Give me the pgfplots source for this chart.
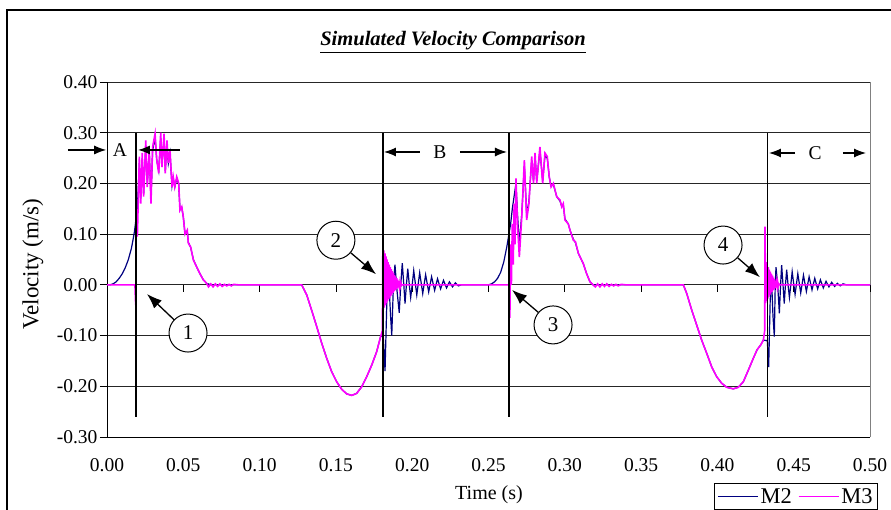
\documentclass[border=0pt]{standalone}
\usepackage{fontspec}
\setmainfont{Liberation Serif}
\usepackage{pgfplots}
\pgfplotsset{compat=1.18}
\usetikzlibrary{arrows.meta}
\definecolor{mtwo}{RGB}{0,0,128}
\definecolor{mthree}{RGB}{255,0,255}
\newcommand{\fs}{\fontsize{19.5}{22}\selectfont}
\begin{document}
\begin{tikzpicture}[x=1pt,y=1pt]
\useasboundingbox (0,0) rectangle (891,509);
\draw[line width=1.5pt] (7,-5) -- (7,499) -- (895,499);
\begin{axis}[
  at={(107pt,72pt)}, anchor=south west,
  scale only axis, width=763pt, height=355pt,
  xmin=0, xmax=0.5, ymin=-0.3, ymax=0.4,
  xtick={0,0.05,0.1,0.15,0.2,0.25,0.3,0.35,0.4,0.45,0.5},
  ytick={-0.3,-0.2,-0.1,0,0.1,0.2,0.3,0.4},
  /pgf/number format/fixed, /pgf/number format/fixed zerofill,
  /pgf/number format/precision=2, /pgf/number format/assume math mode=true,
  ticklabel style={font=\fs},
  axis x line*=bottom, axis y line*=left,
  axis line style={black, line width=0.8pt},
  tick align=outside, major tick length=7pt,
  xtick style={draw=none}, ytick style={black, line width=0.8pt},
  xticklabel style={yshift=-11pt},
  yticklabel style={xshift=1pt},
  ymajorgrids, grid style={black!85, line width=0.8pt},
  clip=false,
  legend style={at={(0.7955,-0.1296)}, anchor=north west, draw=black, line width=0.8pt,
     font=\fontsize{22.5}{25}\selectfont, legend columns=2,
     /tikz/every even column/.append style={column sep=4pt},
     inner sep=3pt},
  legend image code/.code={\draw[#1] (0pt,0pt) -- (40pt,0pt);},
]
\draw[gray, line width=0.8pt] (rel axis cs:1,0) -- (rel axis cs:1,1);
\pgfplotsinvokeforeach{0,0.05,0.1,0.15,0.2,0.25,0.3,0.35,0.4,0.45,0.5}{
  \draw[black, line width=0.8pt] (axis cs:#1,0) -- ++(0pt,-7pt);
}
\addplot[mtwo, line width=1.2pt] table {
0 0
0.002 0
0.004 0.002
0.006 0.006
0.008 0.013
0.010 0.022
0.012 0.034
0.014 0.050
0.016 0.072
0.017 0.088
0.018 0.105
0.019 0.130
0.0199 0.150
0.0212 0.240
0.0221 0.170
0.0231 0.250
0.0240 0.180
0.0254 0.275
0.0264 0.200
0.0277 0.260
0.0288 0.170
0.0299 0.265
0.0315 0.290
0.0326 0.246
0.0339 0.225
0.0352 0.290
0.0360 0.235
0.0374 0.290
0.0382 0.225
0.0393 0.280
0.0402 0.240
0.0413 0.260
0.0426 0.195
0.0434 0.210
0.0444 0.193
0.0457 0.210
0.0470 0.198
0.0478 0.150
0.0490 0.152
0.0500 0.134
0.0511 0.102
0.0526 0.105
0.0533 0.084
0.0548 0.074
0.0566 0.050
0.0588 0.035
0.0609 0.022
0.0631 0.010
0.0653 0.003
0.0680 0
0.1276 0
0.1309 -0.020
0.1341 -0.050
0.1374 -0.082
0.1407 -0.115
0.1440 -0.145
0.1472 -0.171
0.1505 -0.191
0.1538 -0.206
0.1571 -0.215
0.1604 -0.218
0.1636 -0.214
0.1669 -0.201
0.1702 -0.181
0.1735 -0.158
0.1767 -0.132
0.1793 -0.102
0.1810 -0.100
0.1822 -0.170
0.1835 -0.020
0.1845 0.020
0.1858 -0.060
0.1866 -0.100
0.1877 0.000
0.1887 0.040
0.1900 -0.010
0.1915 -0.055
0.1925 0.000
0.1935 0.043
0.1945 0.000
0.1953 -0.037
0.1962 0.000
0.1971 0.032
0.1981 0.000
0.1990 -0.025
0.2000 0.000
0.2010 0.028
0.2030 -0.020
0.2049 0.024
0.2069 -0.017
0.2088 0.020
0.2108 -0.014
0.2127 0.016
0.2147 -0.011
0.2166 0.012
0.2186 -0.008
0.2205 0.009
0.2225 -0.006
0.2244 0.006
0.2264 -0.004
0.2283 0.004
0.2303 -0.002
0.2320 0
0.2500 0
0.2520 0.002
0.2540 0.006
0.2560 0.013
0.2580 0.025
0.2600 0.045
0.2620 0.075
0.2634 0.100
0.2645 0.120
0.2656 0.150
0.2668 0.175
0.2680 0.200
0.2690 0.140
0.2702 0.080
0.2718 0.140
0.2735 0.235
0.2750 0.140
0.2765 0.165
0.2783 0.245
0.2795 0.205
0.2805 0.255
0.2816 0.205
0.2837 0.265
0.2855 0.205
0.2870 0.255
0.2885 0.250
0.2898 0.213
0.2910 0.195
0.2925 0.198
0.2947 0.174
0.2969 0.165
0.2980 0.155
0.2990 0.158
0.3001 0.130
0.3023 0.120
0.3034 0.108
0.3056 0.090
0.3070 0.083
0.3089 0.062
0.3121 0.042
0.3143 0.022
0.3165 0.006
0.3185 0
0.3777 0
0.3799 -0.017
0.3832 -0.050
0.3864 -0.079
0.3897 -0.109
0.3930 -0.135
0.3963 -0.162
0.3995 -0.181
0.4028 -0.194
0.4061 -0.202
0.4104 -0.205
0.4137 -0.202
0.4170 -0.191
0.4203 -0.168
0.4235 -0.145
0.4260 -0.128
0.4285 -0.118
0.4301 -0.109
0.4327 -0.110
0.4336 -0.162
0.4346 -0.030
0.4355 0.010
0.4364 -0.060
0.4373 -0.102
0.4379 0.000
0.4384 0.035
0.4395 0.000
0.4406 -0.056
0.4414 0.000
0.4421 0.039
0.4430 0.000
0.4438 -0.037
0.4446 0.000
0.4454 0.030
0.4463 0.000
0.4472 -0.025
0.4481 0.000
0.4490 0.026
0.4509 -0.019
0.4527 0.022
0.4546 -0.016
0.4564 0.019
0.4583 -0.013
0.4601 0.016
0.4620 -0.010
0.4638 0.013
0.4657 -0.008
0.4675 0.010
0.4694 -0.006
0.4712 0.007
0.4731 -0.004
0.4749 0.005
0.4768 -0.003
0.4786 0.003
0.4805 -0.002
0.4823 0.002
0.4847 0
0.5 0
};
\addlegendentry{M2}
\addplot[mthree, line width=1.6pt] table {
0 0
0.0183 0
0.0188 -0.040
0.0192 0.130
0.0199 0.095
0.0212 0.253
0.0221 0.160
0.0231 0.260
0.0240 0.174
0.0254 0.285
0.0264 0.193
0.0277 0.266
0.0288 0.160
0.0299 0.272
0.0315 0.298
0.0326 0.246
0.0339 0.220
0.0352 0.300
0.0360 0.232
0.0374 0.298
0.0382 0.220
0.0393 0.285
0.0402 0.240
0.0413 0.265
0.0426 0.193
0.0434 0.213
0.0444 0.193
0.0457 0.213
0.0470 0.200
0.0478 0.147
0.0490 0.154
0.0500 0.134
0.0511 0.100
0.0526 0.108
0.0533 0.082
0.0548 0.075
0.0566 0.049
0.0588 0.035
0.0609 0.022
0.0631 0.010
0.0653 0.003
0.0665 -0.004
0.0680 0.002
0.0695 -0.004
0.0710 0.002
0.0725 -0.003
0.0740 0.002
0.0755 -0.003
0.0770 0.001
0.0785 -0.002
0.0800 0.001
0.0815 -0.002
0.0830 0.001
0.0860 0
0.1276 0
0.1309 -0.020
0.1341 -0.050
0.1374 -0.082
0.1407 -0.115
0.1440 -0.145
0.1472 -0.171
0.1505 -0.191
0.1538 -0.206
0.1571 -0.215
0.1604 -0.218
0.1636 -0.214
0.1669 -0.201
0.1702 -0.181
0.1735 -0.158
0.1767 -0.132
0.1793 -0.102
0.1805 -0.090
0.1808 0.100
0.1811 -0.050
0.18145 0.068
0.1818 -0.045
0.18215 0.062
0.1825 -0.040
0.18285 0.056
0.1832 -0.036
0.18355 0.050
0.1839 -0.032
0.18425 0.045
0.1846 -0.028
0.18495 0.040
0.1853 -0.025
0.18565 0.035
0.1860 -0.022
0.18635 0.031
0.1867 -0.019
0.18705 0.027
0.1874 -0.016
0.18775 0.023
0.1881 -0.013
0.18845 0.019
0.1888 -0.011
0.18915 0.016
0.1895 -0.009
0.18985 0.013
0.1902 -0.007
0.19055 0.010
0.1909 -0.005
0.19125 0.007
0.1916 -0.004
0.19195 0.005
0.1923 -0.002
0.19265 0.003
0.1930 -0.001
0.1935 0
0.2634 0
0.2640 -0.065
0.2645 0.080
0.2650 0.000
0.2656 0.120
0.2662 0.040
0.2668 0.160
0.2674 0.080
0.2680 0.210
0.2690 0.120
0.2702 0.055
0.2718 0.134
0.2735 0.246
0.2750 0.128
0.2765 0.160
0.2783 0.253
0.2795 0.200
0.2805 0.260
0.2816 0.200
0.2837 0.272
0.2855 0.200
0.2870 0.260
0.2885 0.253
0.2898 0.213
0.2910 0.193
0.2925 0.200
0.2947 0.174
0.2969 0.167
0.2980 0.154
0.2990 0.160
0.3001 0.128
0.3023 0.120
0.3034 0.108
0.3056 0.088
0.3070 0.085
0.3089 0.062
0.3121 0.042
0.3143 0.022
0.3165 0.006
0.3185 0
0.3200 -0.004
0.3215 0.002
0.3230 -0.004
0.3245 0.002
0.3260 -0.003
0.3275 0.002
0.3290 -0.003
0.3305 0.001
0.3320 -0.002
0.3335 0.001
0.3350 -0.002
0.3370 0.001
0.3400 0
0.3777 0
0.3799 -0.017
0.3832 -0.050
0.3864 -0.079
0.3897 -0.109
0.3930 -0.135
0.3963 -0.162
0.3995 -0.181
0.4028 -0.194
0.4061 -0.202
0.4104 -0.205
0.4137 -0.202
0.4170 -0.191
0.4203 -0.168
0.4235 -0.145
0.4260 -0.128
0.4285 -0.118
0.4301 -0.109
0.4310 -0.090
0.4312 0.115
0.43155 -0.036
0.4319 0.045
0.43225 -0.032
0.4326 0.040
0.43295 -0.028
0.4333 0.035
0.43365 -0.024
0.4340 0.030
0.43435 -0.020
0.4347 0.026
0.43505 -0.017
0.4354 0.022
0.43575 -0.014
0.4361 0.018
0.43645 -0.011
0.4368 0.014
0.43715 -0.009
0.4375 0.011
0.43785 -0.007
0.4382 0.008
0.43855 -0.005
0.4389 0.006
0.43925 -0.004
0.4396 0.004
0.43995 -0.002
0.4403 0.002
0.4410 0
0.5 0
};
\addlegendentry{M3}
% event lines
\draw[black, line width=1.5pt] (axis cs:0.019,0.30) -- (axis cs:0.019,-0.26);
\draw[black, line width=1.5pt] (axis cs:0.181,0.30) -- (axis cs:0.181,-0.26);
\draw[black, line width=1.5pt] (axis cs:0.2634,0.30) -- (axis cs:0.2634,-0.26);
\draw[black, line width=1.5pt] (axis cs:0.4327,0.30) -- (axis cs:0.4327,-0.26);
% region arrows
\tikzset{harr/.style={black, line width=1.2pt, -{Latex[length=12pt,width=9pt]}}}
\draw[harr] (axis cs:-0.0256,0.266) -- (axis cs:-0.0005,0.266);
\node[font=\fs] at (axis cs:0.0085,0.266) {A};
\draw[harr] (axis cs:0.0478,0.266) -- (axis cs:0.0203,0.266);
\draw[harr] (axis cs:0.2051,0.262) -- (axis cs:0.1815,0.262);
\node[font=\fs] at (axis cs:0.2182,0.262) {B};
\draw[harr] (axis cs:0.2313,0.262) -- (axis cs:0.2621,0.262);
\draw[harr] (axis cs:0.4509,0.260) -- (axis cs:0.4338,0.260);
\node[font=\fs] at (axis cs:0.4640,0.260) {C};
\draw[harr] (axis cs:0.4823,0.260) -- (axis cs:0.4974,0.260);
% numbered circles
\tikzset{num/.style={circle, draw=black, fill=white, minimum size=38pt, inner sep=0pt, line width=1pt, font=\fontsize{21}{23}\selectfont},
         carr/.style={black, line width=1.3pt, -{Latex[length=15pt,width=11pt]}}}
\node[num] (c1) at (axis cs:0.0531,-0.095) {1};
\draw[carr] (c1) -- (axis cs:0.0262,-0.018);
\node[num] (c2) at (axis cs:0.150,0.088) {2};
\draw[carr] (c2) -- (axis cs:0.1763,0.021);
\node[num] (c3) at (axis cs:0.2923,-0.079) {3};
\draw[carr] (c3) -- (axis cs:0.2654,-0.010);
\node[num] (c4) at (axis cs:0.4037,0.0785) {4};
\draw[carr] (c4) -- (axis cs:0.4279,0.015);
\end{axis}
\node[font=\fontsize{20.5}{24}\selectfont\bfseries\itshape] at (453,467) {\underline{Simulated Velocity Comparison}};
\node[font=\fontsize{23}{26}\selectfont, rotate=90] at (33,245) {Velocity (m/s)};
\node[font=\fontsize{20}{23}\selectfont] at (489,14) {Time (s)};
\end{tikzpicture}
\end{document}
